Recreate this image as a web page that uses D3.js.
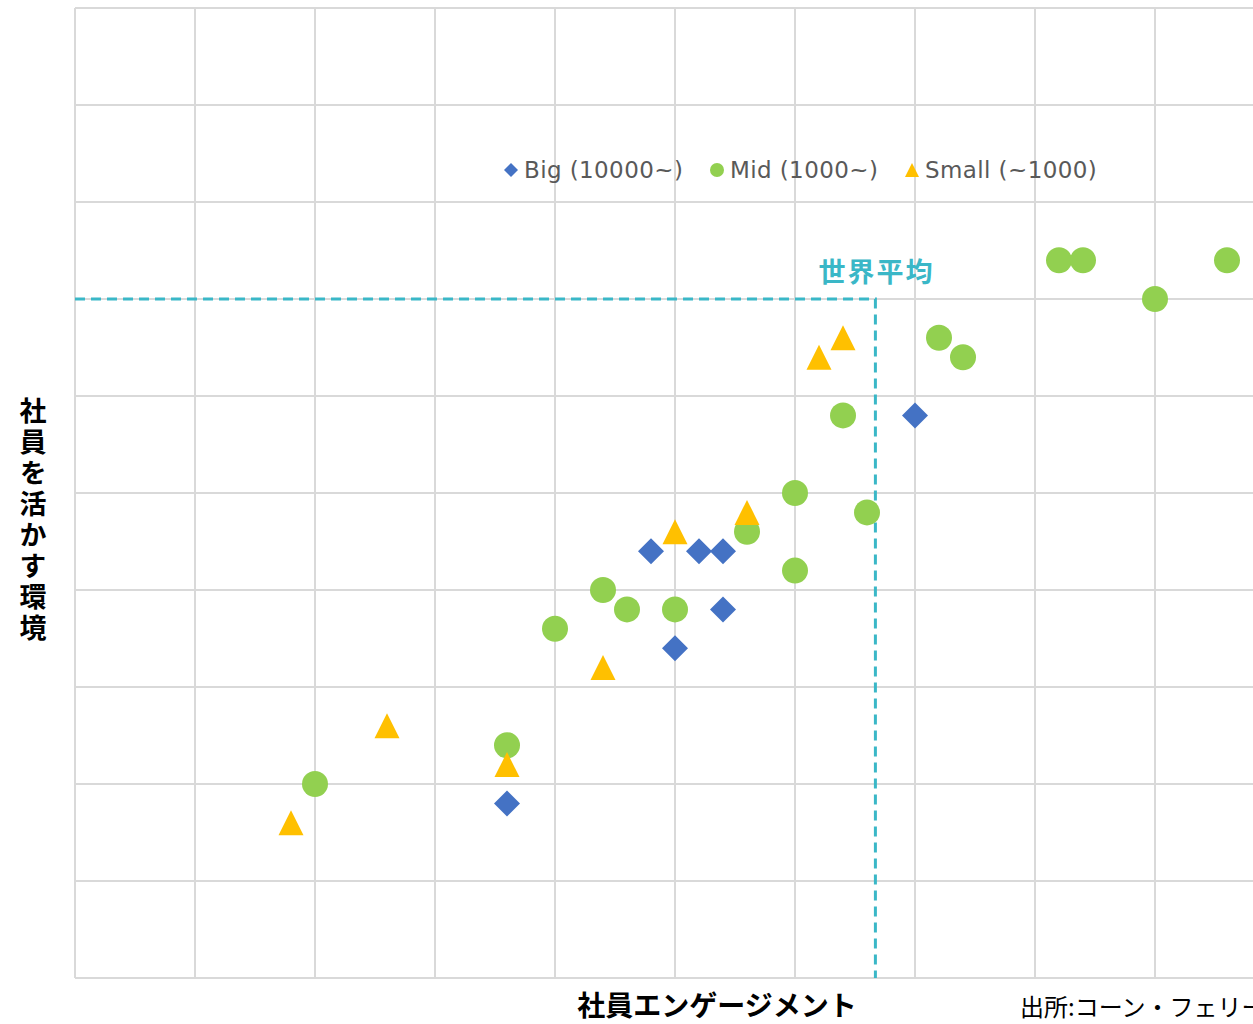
<!DOCTYPE html>
<html>
<head>
<meta charset="utf-8">
<script src="https://cdn.jsdelivr.net/npm/d3@7"></script>
<style>
  body { margin: 0; background: #fff; }
  svg { display: block; }
</style>
</head>
<body>
<svg></svg>
<script>
// 系列データ（グリッド1目盛 = 1）
const bigX = [3.6, 4.8, 5.2, 5.4, 5.4, 5.0, 7.0];
const bigY = [1.8, 4.4, 4.4, 4.4, 3.8, 3.4, 5.8];

const midX = [2.0, 3.6, 4.0, 4.4, 4.6, 5.0, 5.6, 6.0, 6.0, 6.4, 6.6, 7.2, 7.4, 8.2, 8.4, 9.0, 9.6];
const midY = [2.0, 2.4, 3.6, 4.0, 3.8, 3.8, 4.6, 5.0, 4.2, 5.8, 4.8, 6.6, 6.4, 7.4, 7.4, 7.0, 7.4];

const smallX = [1.8, 2.6, 3.6, 4.4, 5.0, 5.6, 6.2, 6.4];
const smallY = [1.6, 2.6, 2.2, 3.2, 4.6, 4.8, 6.4, 6.6];

const seriesNames = ["Big (10000~)", "Mid (1000~)", "Small (~1000)"];
const avgX = 6.67;
const avgY = 7.0;
const gridTicks = d3.range(0, 11);

const width = 1253;
const height = 1024;
const colors = ["#4472c4", "#92d050", "#ffc000"];

const svg = d3.select("svg").attr("width", width).attr("height", height);

const x = d3.scaleLinear().domain([0, 10]).range([75, 1275]);
const y = d3.scaleLinear().domain([0, 10]).range([978, 8]);

// グリッド
const grid = svg.append("g").attr("stroke", "#d9d9d9").attr("stroke-width", 2);
grid.selectAll(".v").data(gridTicks).join("line")
  .attr("x1", d => x(d)).attr("x2", d => x(d))
  .attr("y1", y(10)).attr("y2", y(0));
grid.selectAll(".h").data(gridTicks).join("line")
  .attr("x1", x(0)).attr("x2", width)
  .attr("y1", d => y(d)).attr("y2", d => y(d));

// 世界平均
const teal = "#3ab7c7";
svg.append("path")
  .attr("d", `M${x(0)},${y(avgY)} H${x(avgX)} V${y(0)}`)
  .attr("fill", "none")
  .attr("stroke", teal)
  .attr("stroke-width", 3)
  .attr("stroke-dasharray", "10,6");
svg.append("text")
  .attr("x", x(avgX) + 1).attr("y", y(avgY) - 17)
  .attr("text-anchor", "middle")
  .attr("font-family", "Noto Sans CJK JP")
  .attr("font-weight", "bold")
  .attr("font-size", 27)
  .attr("letter-spacing", 2)
  .attr("fill", teal)
  .text("世界平均");

// マーカー
const diamond = r => `M0,${-r} L${r},0 L0,${r} L${-r},0Z`;
const triangle = r => `M0,${-r} L${r},${r} L${-r},${r}Z`;

svg.append("g").selectAll("path").data(d3.zip(bigX, bigY)).join("path")
  .attr("d", diamond(13))
  .attr("transform", d => `translate(${x(d[0])},${y(d[1])})`)
  .attr("fill", colors[0]);

svg.append("g").selectAll("circle").data(d3.zip(midX, midY)).join("circle")
  .attr("cx", d => x(d[0])).attr("cy", d => y(d[1]))
  .attr("r", 13)
  .attr("fill", colors[1]);

svg.append("g").selectAll("path").data(d3.zip(smallX, smallY)).join("path")
  .attr("d", triangle(12.5))
  .attr("transform", d => `translate(${x(d[0])},${y(d[1])})`)
  .attr("fill", colors[2]);

// 凡例
const legendPos = [511, 717, 912];
const legend = svg.append("g").selectAll("g").data(seriesNames).join("g")
  .attr("transform", (d, i) => `translate(${legendPos[i]},170)`);
legend.each(function (d, i) {
  const g = d3.select(this);
  if (i === 0) g.append("path").attr("d", diamond(7)).attr("fill", colors[0]);
  if (i === 1) g.append("circle").attr("r", 7).attr("fill", colors[1]);
  if (i === 2) g.append("path").attr("d", triangle(7)).attr("fill", colors[2]);
  g.append("text")
    .attr("x", 13).attr("dy", "0.36em")
    .attr("font-family", "DejaVu Sans")
    .attr("font-size", 23)
    .attr("letter-spacing", 0.4)
    .attr("fill", "#595959")
    .text(d);
});

// 軸タイトル
svg.append("text")
  .attr("x", 717).attr("y", 1016)
  .attr("text-anchor", "middle")
  .attr("font-family", "Noto Sans CJK JP")
  .attr("font-weight", "bold")
  .attr("font-size", 28)
  .text("社員エンゲージメント");

// 縦書きタイトル
svg.append("text")
  .attr("x", 33).attr("y", 521)
  .attr("text-anchor", "middle")
  .style("writing-mode", "vertical-rl")
  .style("text-orientation", "upright")
  .attr("font-family", "Noto Sans CJK JP")
  .attr("font-weight", "bold")
  .attr("font-size", 27)
  .attr("letter-spacing", 4)
  .text("社員を活かす環境");

svg.append("text")
  .attr("x", 1020).attr("y", 1016)
  .attr("font-family", "Noto Sans CJK JP")
  .attr("font-size", 24)
  .text("出所:コーン・フェリー");
</script>
</body>
</html>
